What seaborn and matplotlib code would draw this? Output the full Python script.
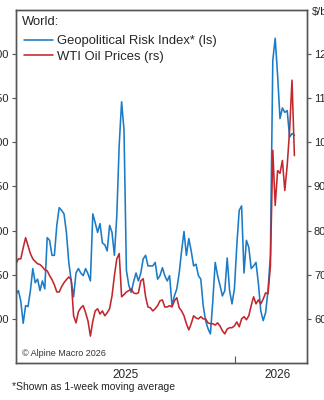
import matplotlib
matplotlib.use("Agg")
import matplotlib.pyplot as plt
from matplotlib.lines import Line2D
import pandas as pd
import seaborn as sns

# 4-day observations, Jan 2025 - Apr 2026
dates = pd.date_range("2025-01-01", periods=117, freq="4D")

# Geopolitical Risk Index, 1-week moving average (left scale)
gpr = [128, 132, 120, 95, 115, 114, 132, 157, 141, 145,
       132, 143, 134, 192, 189, 172, 172, 206, 226, 223,
       219, 198, 164, 143, 125, 152, 157, 152, 149, 157,
       151, 143, 219, 209, 198, 208, 186, 184, 177, 206,
       198, 172, 217, 297, 346, 314, 155, 138, 130, 142,
       152, 143, 152, 168, 172, 160, 160, 160, 164, 145,
       149, 158, 149, 143, 149, 115, 126, 134, 152, 177,
       199, 172, 191, 177, 160, 162, 149, 145, 115, 98,
       89, 83, 120, 164, 149, 138, 126, 132, 169, 132,
       117, 134, 183, 223, 228, 152, 189, 181, 157, 160,
       164, 140, 109, 98, 107, 132, 172, 393, 418, 376,
       327, 339, 334, 336, 306, 310, 308]

# WTI crude oil price, $/bbl (right scale)
wti = [72.5, 73.6, 73.6, 76.1, 78.4, 76.6, 74.8, 73.6, 73.0, 72.5,
       72.3, 71.8, 71.1, 70.9, 69.8, 68.9, 67.7, 66.1, 66.1, 67.3,
       68.2, 68.9, 69.5, 68.9, 60.7, 59.1, 61.6, 62.5, 63.0, 61.4,
       59.5, 56.1, 59.5, 61.8, 62.3, 61.1, 61.8, 60.7, 61.4, 62.3,
       65.2, 69.8, 73.6, 74.8, 65.0, 65.5, 66.1, 66.4, 66.8, 65.9,
       65.7, 65.9, 68.6, 69.1, 65.0, 62.7, 62.5, 61.8, 62.3, 63.0,
       64.1, 64.3, 62.7, 62.7, 63.0, 62.7, 64.1, 64.8, 62.5, 61.8,
       60.7, 58.9, 57.5, 58.9, 60.7, 60.2, 60.0, 60.5, 60.0, 60.0,
       59.1, 58.9, 58.9, 58.6, 59.1, 58.4, 57.3, 56.6, 57.7, 58.0,
       58.0, 58.4, 59.3, 58.2, 60.0, 60.5, 59.8, 60.7, 63.0, 65.0,
       63.4, 64.3, 63.4, 64.5, 65.9, 65.7, 72.0, 98.2, 85.7, 93.6,
       93.0, 95.9, 89.1, 94.8, 102.7, 114.1, 97.0]

left_ticks = [100, 150, 200, 250, 300, 350, 400]
right_ticks = [60, 70, 80, 90, 100, 110, 120]
year_labels = ["2025", "2026"]

BLUE = "#1b7bc6"
RED = "#c1272d"
SPINE = "#555555"

sns.set_style("white")
plt.rcParams["font.family"] = ["Liberation Sans", "DejaVu Sans"]

fig = plt.figure(figsize=(3.24, 4.0), dpi=100)
ax = fig.add_axes([16 / 324, 1 - 363 / 400, 291 / 324, 353 / 400])
ax2 = ax.twinx()

sns.lineplot(x=dates, y=gpr, ax=ax, color=BLUE, linewidth=1.15)
sns.lineplot(x=dates, y=wti, ax=ax2, color=RED, linewidth=1.15)

ax.set_xlim(pd.Timestamp("2025-01-01"), pd.Timestamp("2026-05-01"))
ax.set_ylim(50, 450)
ax2.set_ylim(50, 130)
ax.set_xlabel("")
ax.set_ylabel("")
ax2.set_ylabel("")

ax.set_yticks(left_ticks)
ax2.set_yticks(right_ticks)
ax.tick_params(axis="y", which="major", direction="out", length=3, width=0.8,
               color=SPINE, labelsize=8, pad=2, left=True)
ax2.tick_params(axis="y", which="major", direction="out", length=3, width=0.8,
                color=SPINE, labelsize=8, pad=2, right=True)

# Year boundary tick plus centred year labels
ax.set_xticks([pd.Timestamp("2026-01-01")])
ax.set_xticklabels([""])
ax.set_xticks([pd.Timestamp("2025-07-03"), pd.Timestamp("2026-03-13")], minor=True)
ax.set_xticklabels(year_labels, minor=True)
ax.tick_params(axis="x", which="major", direction="in", length=5, width=0.8,
               color=SPINE, bottom=True)
ax.tick_params(axis="x", which="minor", length=0, labelsize=8.5, pad=4)

for a in (ax, ax2):
    for s in a.spines.values():
        s.set_color(SPINE)
        s.set_linewidth(1.0)
        s.set_visible(True)

fig.text(22 / 324, 1 - 22 / 400, "World:", fontsize=9.4, va="center", ha="left")
handles = [Line2D([], [], color=BLUE, linewidth=1.15),
           Line2D([], [], color=RED, linewidth=1.15)]
leg = ax2.legend(handles, ["Geopolitical Risk Index* (ls)", "WTI Oil Prices (rs)"],
                 loc="upper left", bbox_to_anchor=(24 / 324, 1 - 35 / 400),
                 bbox_transform=fig.transFigure, frameon=False, fontsize=9.4,
                 handlelength=2.2, handletextpad=0.3, labelspacing=0.25,
                 borderaxespad=0, borderpad=0)

ax.text(0.021, 0.028, "\u00a9 Alpine Macro 2026", transform=ax.transAxes,
        fontsize=6.5, va="center", ha="left", color="#333333")
fig.text(312 / 324, 1 - 12 / 400, "$/bbl", fontsize=8, va="center", ha="left")
fig.text(12 / 324, 1 - 387 / 400, "*Shown as 1-week moving average", fontsize=7.5,
         va="center", ha="left")

fig.savefig("out.png", dpi=100)
